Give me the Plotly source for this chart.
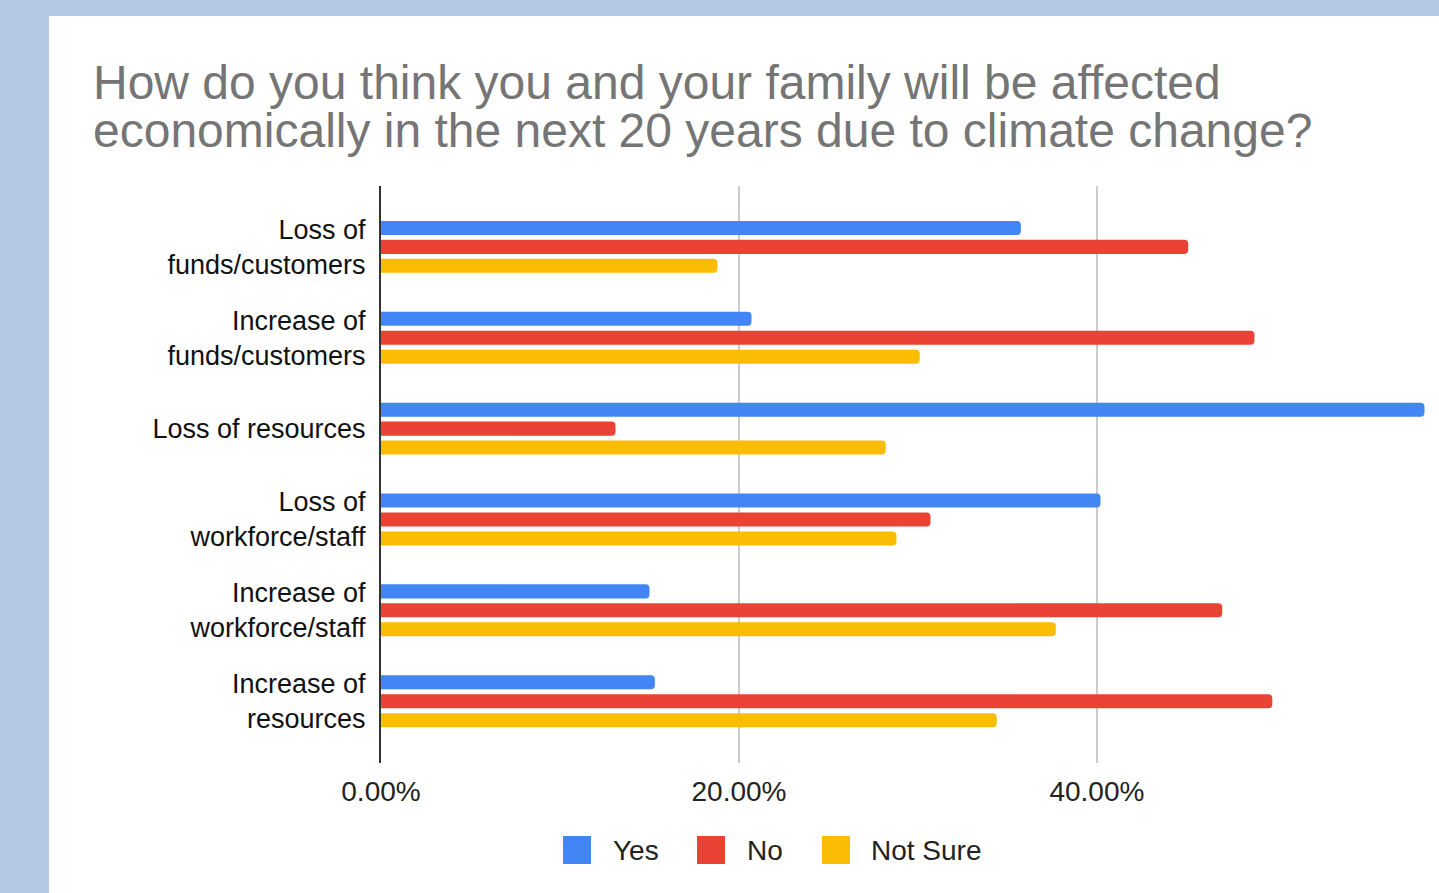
import plotly.graph_objects as go

# Survey answers, share of respondents per impact category
categories = [
    "Loss of<br>funds/customers",
    "Increase of<br>funds/customers",
    "Loss of resources",
    "Loss of<br>workforce/staff",
    "Increase of<br>workforce/staff",
    "Increase of<br>resources",
]
series_names = ["Yes", "No", "Not Sure"]
yes_vals = [0.3575, 0.207, 0.583, 0.402, 0.150, 0.153]
no_vals = [0.451, 0.488, 0.131, 0.307, 0.470, 0.498]
not_sure_vals = [0.188, 0.301, 0.282, 0.288, 0.377, 0.344]
tick_vals = [0.0, 0.2, 0.4]
tick_text = ["0.00%", "20.00%", "40.00%"]

colors = ["#4285F4", "#EA4335", "#FBBC04"]
W, H = 1439, 893
ML, MR, MT, MB = 381, 2, 186, 130
PW, PH = W - ML - MR, H - MT - MB


def px_x(px):
    return (px - ML) / PW


def px_y(py):
    return (H - MB - py) / PH


fig = go.Figure()
for name, vals, col in zip(series_names, [yes_vals, no_vals, not_sure_vals], colors):
    fig.add_trace(go.Bar(
        y=categories, x=vals, name=name, orientation="h",
        marker=dict(color=col, line=dict(width=0), cornerradius=4),
        showlegend=False,
    ))

font = "Liberation Sans, Arial, Helvetica, sans-serif"

shapes = [
    # white card behind the chart
    dict(type="rect", xref="paper", yref="paper", layer="below",
         x0=px_x(49), x1=px_x(W + 5), y0=px_y(16), y1=px_y(H + 5),
         fillcolor="white", line=dict(width=0)),
]
annotations = [
    dict(text="How do you think you and your family will be affected",
         xref="paper", yref="paper", x=px_x(91), y=px_y(83),
         xanchor="left", yanchor="middle", showarrow=False,
         font=dict(family=font, size=48, color="#757575")),
    dict(text="economically in the next 20 years due to climate change?",
         xref="paper", yref="paper", x=px_x(91), y=px_y(131),
         xanchor="left", yanchor="middle", showarrow=False,
         font=dict(family=font, size=48, color="#757575")),
]

# legend row
legend_items = [(563, 611), (697, 745), (822, 869)]
for (sx, tx), name, col in zip(legend_items, series_names, colors):
    shapes.append(dict(type="rect", xref="paper", yref="paper",
                       x0=px_x(sx), x1=px_x(sx + 28),
                       y0=px_y(864), y1=px_y(836),
                       fillcolor=col, line=dict(width=0)))
    annotations.append(dict(text=name, xref="paper", yref="paper",
                            x=px_x(tx), y=px_y(850), xanchor="left",
                            yanchor="middle", showarrow=False,
                            font=dict(family=font, size=28, color="#222222")))

fig.update_layout(
    width=W, height=H,
    margin=dict(l=ML, r=MR, t=MT, b=MB, pad=0),
    paper_bgcolor="#B4C9E3",
    plot_bgcolor="rgba(0,0,0,0)",
    barmode="group",
    bargap=0.374,
    bargroupgap=0.26,
    shapes=shapes,
    annotations=annotations,
    font=dict(family=font, size=26, color="#222222"),
    xaxis=dict(
        range=[0, 0.59], tickvals=tick_vals, ticktext=tick_text,
        showgrid=True, gridcolor="#CCCCCC", gridwidth=2,
        zeroline=False, showline=False,
        ticks="", ticklabelstandoff=9,
        tickfont=dict(family=font, size=28, color="#222222"),
    ),
    yaxis=dict(
        range=[5.68, -0.67], showgrid=False, zeroline=False,
        showline=True, linecolor="#333333", linewidth=2,
        ticks="", ticklabelstandoff=8,
        tickfont=dict(family=font, size=27, color="#111111"),
    ),
)

fig.write_html("out.html")
